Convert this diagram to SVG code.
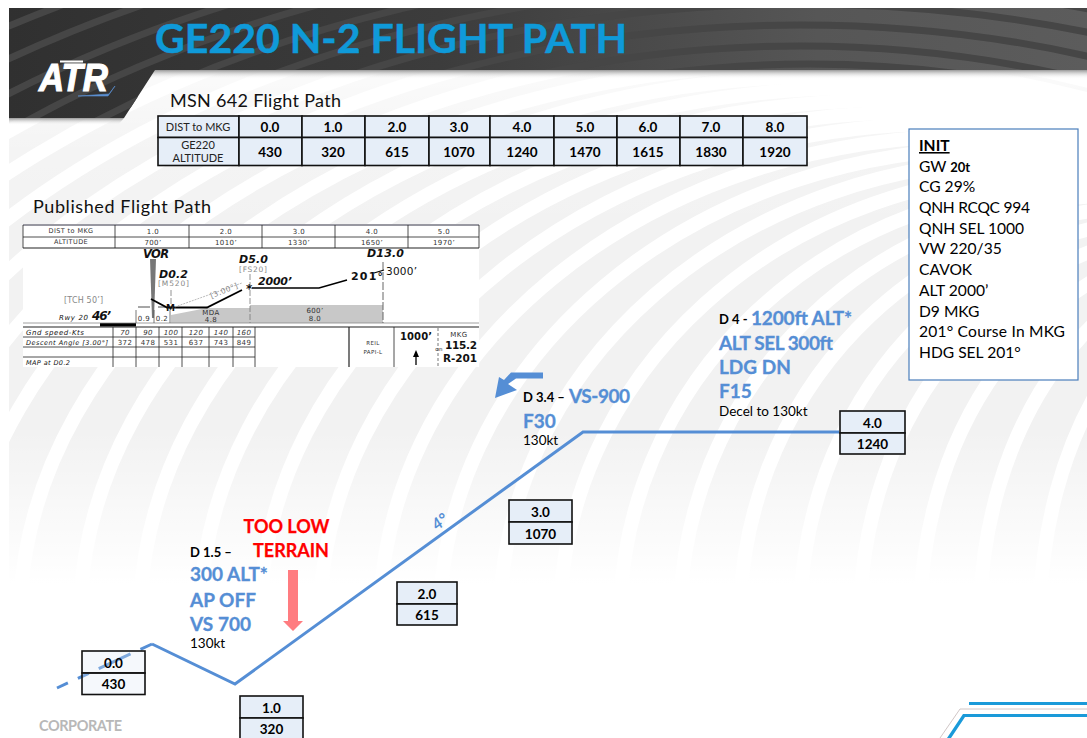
<svg xmlns="http://www.w3.org/2000/svg" width="1087" height="738" viewBox="0 0 1087 738">
<style>
text{font-family:Lato,"Liberation Sans",sans-serif;fill:#000}
.b{font-weight:700}
.blue{fill:#558ed5;stroke:#558ed5;stroke-width:.3;font-weight:700;font-size:19px}
.red{fill:#ff0000;stroke:#ff0000;stroke-width:.25;font-weight:700;font-size:18px;text-anchor:middle}
.sm{font-size:13.5px}
.lead{font-size:13px;font-weight:700}
.cell{fill:#e6eef8;stroke:#111;stroke-width:1.6}
.ghost{fill:#dfe8f5;fill-opacity:.3;stroke:#111;stroke-width:1.6}
.ct{font-size:13.5px;font-weight:700;text-anchor:middle}
.tt{font-size:11px;text-anchor:middle;fill:#222}
.init{font-size:15.6px}
.c{font-family:"DejaVu Sans",sans-serif;fill:#333;font-size:7px;text-anchor:middle;letter-spacing:.4px}
.ci{font-family:"DejaVu Sans",sans-serif;fill:#111;font-style:italic;font-size:7px}
.cb{font-family:"DejaVu Sans",sans-serif;fill:#111;font-weight:700;font-style:italic}
.cu{font-family:"DejaVu Sans",sans-serif;fill:#111;font-weight:700}
.g{font-family:"DejaVu Sans",sans-serif;fill:#888;font-size:7.5px}
.l{stroke:#222;stroke-width:.8;fill:none}
.path{stroke:#558ed5;stroke-width:3;fill:none}
.arcs path{fill:none}
</style>
<defs>
<clipPath id="slide"><rect x="9" y="70" width="1078" height="530"/></clipPath>
<clipPath id="head"><path d="M9 8H1087V70H155L124 118H9Z"/></clipPath>
<g id="arcs" class="arcs">
<path d="M-1000 620A1800 910 0 0 1 2600 620"/>
<path d="M-940 620A1740 889 0 0 1 2540 620"/>
<path d="M-880 620A1680 868 0 0 1 2480 620"/>
<path d="M-820 620A1620 847 0 0 1 2420 620"/>
<path d="M-760 620A1560 826 0 0 1 2360 620"/>
<path d="M-700 620A1500 805 0 0 1 2300 620"/>
<path d="M-640 620A1440 784 0 0 1 2240 620"/>
<path d="M-580 620A1380 763 0 0 1 2180 620"/>
<path d="M-520 620A1320 742 0 0 1 2120 620"/>
<path d="M-460 620A1260 721 0 0 1 2060 620"/>
<path d="M-400 620A1200 700 0 0 1 2000 620"/>
<path d="M-340 620A1140 679 0 0 1 1940 620"/>
<path d="M-280 620A1080 658 0 0 1 1880 620"/>
<path d="M-220 620A1020 637 0 0 1 1820 620"/>
<path d="M-160 620A960 616 0 0 1 1760 620"/>
<path d="M-100 620A900 595 0 0 1 1700 620"/>
<path d="M-40 620A840 574 0 0 1 1640 620"/>
<path d="M20 620A790 556 0 0 1 1600 620"/>
<path d="M80 620A752 544 0 0 1 1584 620"/>
<path d="M140 620A720 532 0 0 1 1580 620"/>
<path d="M200 620A688 520 0 0 1 1576 620"/>
<path d="M260 620A656 508 0 0 1 1572 620"/>
<path d="M320 620A624 496 0 0 1 1568 620"/>
<path d="M380 620A592 484 0 0 1 1564 620"/>
<path d="M440 620A560 472 0 0 1 1560 620"/>
<path d="M500 620A528 460 0 0 1 1556 620"/>
<path d="M560 620A496 448 0 0 1 1552 620"/>
<path d="M620 620A464 436 0 0 1 1548 620"/>
<path d="M680 620A432 424 0 0 1 1544 620"/>
<path d="M740 620A400 412 0 0 1 1540 620"/>
<path d="M800 620A368 400 0 0 1 1536 620"/>
<path d="M860 620A336 388 0 0 1 1532 620"/>
<path d="M920 620A304 376 0 0 1 1528 620"/>
<path d="M980 620A272 364 0 0 1 1524 620"/>
<path d="M1040 620A240 352 0 0 1 1520 620"/>
</g>
<linearGradient id="fade" x1="0" y1="70" x2="0" y2="600" gradientUnits="userSpaceOnUse">
<stop offset="0" stop-color="#fff" stop-opacity=".7"/>
<stop offset=".14" stop-color="#fff" stop-opacity=".2"/>
<stop offset=".3" stop-color="#fff" stop-opacity="0"/>
<stop offset=".68" stop-color="#fff" stop-opacity="0"/>
<stop offset=".97" stop-color="#fff" stop-opacity="1"/>
</linearGradient>
<linearGradient id="hd" x1="0" y1="0" x2="1" y2="0">
<stop offset="0" stop-color="#303030"/><stop offset=".4" stop-color="#3c3c3c"/><stop offset=".75" stop-color="#565656"/><stop offset="1" stop-color="#5c5c5c"/>
</linearGradient>
<linearGradient id="sh" x1="0" y1="0" x2="0" y2="1">
<stop offset="0" stop-color="#999"/><stop offset="1" stop-color="#fff" stop-opacity="0"/>
</linearGradient>
</defs>
<rect width="1087" height="738" fill="#fff"/>
<g id="background">
<g clip-path="url(#slide)">
<rect x="9" y="70" width="1078" height="530" fill="#f2f2f2"/>
<use href="#arcs" stroke="#fff" stroke-width="14"/>
<rect x="9" y="70" width="1078" height="530" fill="url(#fade)"/>
</g>
<rect x="124" y="70" width="963" height="9" fill="url(#sh)"/>
<path d="M9 118H124L118 125H9Z" fill="url(#sh)"/>
<path d="M9 8H1087V70H155L124 118H9Z" fill="url(#hd)"/>
<g clip-path="url(#head)"><use href="#arcs" stroke="#464646" stroke-width="7"/></g>
</g>
<g id="title">
<text x="155" y="53" class="b" font-size="41" style="fill:#0f9ad9;stroke:#0f9ad9;stroke-width:.5" textLength="472" lengthAdjust="spacingAndGlyphs">GE220 N-2 FLIGHT PATH</text>
</g>
<g id="logo">
<text x="39" y="91" font-size="39" font-style="italic" font-weight="700" style="fill:#fff;stroke:#fff;stroke-width:1.2;font-family:'Liberation Sans',sans-serif" textLength="69" lengthAdjust="spacingAndGlyphs">ATR</text>
<path d="M60 61.500H83" stroke="#fff" stroke-width="2"/>
<path d="M78 96H108L115 86L109 94Z" fill="#5b8fd0" stroke="#5b8fd0" stroke-width=".6"/>
</g>
<g id="msn-table">
<text x="170" y="107" font-size="18" style="fill:#111" textLength="171">MSN 642 Flight Path</text>
<g>
<rect class="cell" x="158" y="116" width="81" height="21.500"/><rect class="cell" x="158" y="137.500" width="81" height="28"/>
<rect class="cell" x="239" y="116" width="63" height="21.500"/><rect class="cell" x="239" y="137.500" width="63" height="28"/>
<rect class="cell" x="302" y="116" width="63" height="21.500"/><rect class="cell" x="302" y="137.500" width="63" height="28"/>
<rect class="cell" x="365" y="116" width="64" height="21.500"/><rect class="cell" x="365" y="137.500" width="64" height="28"/>
<rect class="cell" x="429" y="116" width="61" height="21.500"/><rect class="cell" x="429" y="137.500" width="61" height="28"/>
<rect class="cell" x="490" y="116" width="64" height="21.500"/><rect class="cell" x="490" y="137.500" width="64" height="28"/>
<rect class="cell" x="554" y="116" width="63" height="21.500"/><rect class="cell" x="554" y="137.500" width="63" height="28"/>
<rect class="cell" x="617" y="116" width="63" height="21.500"/><rect class="cell" x="617" y="137.500" width="63" height="28"/>
<rect class="cell" x="680" y="116" width="63" height="21.500"/><rect class="cell" x="680" y="137.500" width="63" height="28"/>
<rect class="cell" x="743" y="116" width="64" height="21.500"/><rect class="cell" x="743" y="137.500" width="64" height="28"/>
</g>
<text class="tt" x="198" y="131">DIST to MKG</text>
<text class="tt" x="198" y="149">GE220</text><text class="tt" x="198" y="162">ALTITUDE</text>
<text class="ct" x="270" y="132">0.0</text><text class="ct" x="270" y="157">430</text>
<text class="ct" x="333" y="132">1.0</text><text class="ct" x="333" y="157">320</text>
<text class="ct" x="397" y="132">2.0</text><text class="ct" x="397" y="157">615</text>
<text class="ct" x="459" y="132">3.0</text><text class="ct" x="459" y="157">1070</text>
<text class="ct" x="522" y="132">4.0</text><text class="ct" x="522" y="157">1240</text>
<text class="ct" x="585" y="132">5.0</text><text class="ct" x="585" y="157">1470</text>
<text class="ct" x="648" y="132">6.0</text><text class="ct" x="648" y="157">1615</text>
<text class="ct" x="711" y="132">7.0</text><text class="ct" x="711" y="157">1830</text>
<text class="ct" x="775" y="132">8.0</text><text class="ct" x="775" y="157">1920</text>
</g>
<g id="init">
<rect x="909" y="129" width="169" height="251" fill="#fff" stroke="#4a7ebb" stroke-width="1.2"/>
<text x="919" y="151" class="b init" text-decoration="underline">INIT</text>
<text x="919" y="172" class="init">GW <tspan class="b" font-size="13">20t</tspan></text>
<text x="919" y="192" class="init">CG 29%</text>
<text x="919" y="213" class="init" textLength="111">QNH RCQC 994</text>
<text x="919" y="234" class="init" textLength="105">QNH SEL 1000</text>
<text x="919" y="254" class="init">VW 220/35</text>
<text x="919" y="275" class="init">CAVOK</text>
<text x="919" y="296" class="init">ALT 2000’</text>
<text x="919" y="317" class="init">D9 MKG</text>
<text x="919" y="337" class="init" textLength="146">201° Course In MKG</text>
<text x="919" y="358" class="init">HDG SEL 201°</text>
</g>
<g id="published-chart">
<text x="33" y="213" font-size="18" style="fill:#111" textLength="178">Published Flight Path</text>
<rect x="23" y="224" width="456" height="143" fill="#fff"/>
<path d="M23 225H479" stroke="#334" stroke-width="1"/>
<path d="M23 248H479" stroke="#222" stroke-width="1.200"/>
<path class="l" d="M23 225V248M23 237H479M115 225V248M189 225V248M262 225V248M335 225V248M408 225V248M479 225V248"/>
<text class="c" x="71" y="233" style="font-size:6.500px">DIST to MKG</text><text class="c" x="71" y="244" style="font-size:6.500px">ALTITUDE</text>
<text class="c" x="153" y="234">1.0</text><text class="c" x="153" y="245">700’</text>
<text class="c" x="226" y="234">2.0</text><text class="c" x="226" y="245">1010’</text>
<text class="c" x="299" y="234">3.0</text><text class="c" x="299" y="245">1330’</text>
<text class="c" x="372" y="234">4.0</text><text class="c" x="372" y="245">1650’</text>
<text class="c" x="444" y="234">5.0</text><text class="c" x="444" y="245">1970’</text>
<path d="M171 315L207 308H250V305H383V323H171Z" fill="#c8c8c8"/>
<path d="M150 259H156L154 318H152Z" fill="#777"/>
<text class="cb" x="143" y="258" style="font-size:11.500px" textLength="26">VOR</text>
<text class="cb" x="159" y="278" style="font-size:11px" textLength="29">D0.2</text>
<text class="g" x="158" y="286" textLength="31">[M520]</text>
<text class="g" x="64" y="303" style="font-size:8px" textLength="39">[TCH 50’]</text>
<text class="ci" x="59" y="320" textLength="29">Rwy 20</text>
<text class="cu" x="92" y="320" style="font-size:12px;font-style:italic" textLength="19">46’</text>
<rect x="100" y="323" width="36" height="3.500" fill="#000"/>
<path d="M23 323H479" stroke="#888" stroke-width=".8"/>
<path d="M138 307H150M158 307H165" stroke="#222" stroke-width=".8"/>
<path d="M136 310V323M154 310V323M170 310V323" stroke="#555" stroke-width=".8"/>
<text class="c" x="144" y="321">0.9</text><text class="c" x="162" y="321">0.2</text>
<path d="M151 299L167 307.500H207L242 290" stroke="#000" stroke-width="1.800" fill="none"/>
<path d="M172 308L242 283" stroke="#aaa" stroke-width=".8" stroke-dasharray="2 1"/>
<text class="cu" x="166" y="311" style="font-size:9px">M</text>
<text class="c" x="225" y="293" transform="rotate(-22 225 293)" style="fill:#888;font-size:7.500px">[3.00°]</text>
<path d="M171 290V306M250 274V323" stroke="#777" stroke-width=".8" stroke-dasharray="6 2"/>
<path d="M383 262V323" stroke="#666" stroke-width="1" stroke-dasharray="8 2"/>
<text class="c" x="211" y="315">MDA</text><text class="c" x="211" y="322">4.8</text>
<text class="c" x="315" y="313">600’</text><text class="c" x="315" y="321">8.0</text>
<text class="cb" x="239" y="263" style="font-size:11px" textLength="29">D5.0</text>
<text class="g" x="239" y="272" textLength="28">[FS20]</text>
<text class="cu" x="246" y="293" style="font-size:12px">*</text>
<text class="cb" x="258" y="285" style="font-size:11px" textLength="34">2000’</text>
<path d="M252 288H319L347 280" stroke="#000" stroke-width="1.500" fill="none"/>
<text class="cu" x="351" y="280" style="font-size:11px" textLength="32">201°</text>
<path d="M374 273L384 270" stroke="#000" stroke-width="1.200"/>
<text x="386" y="275" style="font-family:'DejaVu Sans',sans-serif;fill:#111;font-size:10.500px" textLength="31">3000’</text>
<text class="cb" x="367" y="257" style="font-size:11px" textLength="37">D13.0</text>
<path d="M23 327H479" stroke="#222" stroke-width="1.200"/>
<path class="l" d="M113 327V367M136 327V367M159 327V367M182 327V367M209 327V367M233 327V367M255 327V367M394 327V367M23 337H255M23 347H255M23 357H255"/>
<path d="M349 327V367" stroke="#222" stroke-width="1.200"/>
<text class="ci" x="26" y="335" textLength="58">Gnd speed-Kts</text>
<text class="ci" x="26" y="345" style="font-size:6.500px" textLength="82">Descent Angle [3.00°]</text>
<text class="ci" x="26" y="365" style="font-size:6.500px" textLength="44">MAP at D0.2</text>
<text class="c" x="125" y="335" font-style="italic">70</text><text class="c" x="148" y="335" font-style="italic">90</text><text class="c" x="171" y="335" font-style="italic">100</text><text class="c" x="196" y="335" font-style="italic">120</text><text class="c" x="221" y="335" font-style="italic">140</text><text class="c" x="244" y="335" font-style="italic">160</text>
<text class="c" x="125" y="345">372</text><text class="c" x="148" y="345">478</text><text class="c" x="171" y="345">531</text><text class="c" x="196" y="345">637</text><text class="c" x="221" y="345">743</text><text class="c" x="244" y="345">849</text>
<text class="c" x="373" y="345" style="font-size:5.500px">REIL</text><text class="c" x="373" y="354" style="font-size:5.500px">PAPI-L</text>
<text class="cu" x="400" y="340" style="font-size:10px" textLength="32">1000’</text>
<path d="M416 353V365" stroke="#000" stroke-width="1.300"/><path d="M413 357L416 350L419 357Z" fill="#000"/>
<path d="M438 328V367" stroke="#555" stroke-width=".8" stroke-dasharray="3 2"/>
<text class="c" x="459" y="337">MKG</text>
<text class="c" x="439" y="351" style="font-size:5.500px">on</text>
<text class="cu" x="445" y="349" style="font-size:10.500px" textLength="32">115.2</text>
<text class="cu" x="443" y="362" style="font-size:10.500px" textLength="34">R-201</text>
</g>
<g id="connectors">
<path class="path" d="M57 688L152 644" stroke-dasharray="12 11 12 11 35 11 13"/>
<path class="path" d="M152 644L235 684L583 432H839"/>
</g>
<g id="cp0"><rect class="ghost" x="82" y="651" width="63" height="22"/><rect class="ghost" x="82" y="673" width="63" height="21.500"/><text class="ct" x="113.500" y="668">0.0</text><text class="ct" x="113.500" y="689">430</text></g>
<g id="cp1"><rect class="cell" x="240" y="696" width="63" height="22"/><rect class="cell" x="240" y="718" width="63" height="22"/><text class="ct" x="271.500" y="713">1.0</text><text class="ct" x="271.500" y="734">320</text></g>
<g id="cp2"><rect class="cell" x="397" y="582" width="60" height="22"/><rect class="cell" x="397" y="604" width="60" height="21"/><text class="ct" x="427" y="599">2.0</text><text class="ct" x="427" y="620">615</text></g>
<g id="cp3"><rect class="cell" x="509" y="500" width="63" height="22"/><rect class="cell" x="509" y="522" width="63" height="22"/><text class="ct" x="540.500" y="517">3.0</text><text class="ct" x="540.500" y="539">1070</text></g>
<g id="cp4"><rect class="cell" x="840" y="411" width="65" height="22"/><rect class="cell" x="840" y="433" width="65" height="21"/><text class="ct" x="872.500" y="428">4.0</text><text class="ct" x="872.500" y="449">1240</text></g>
<g id="d15">
<text x="190" y="557" class="lead">D 1.5 –</text>
<text x="190" y="581" class="blue">300 ALT*</text>
<text x="190" y="607" class="blue">AP OFF</text>
<text x="190" y="631" class="blue">VS 700</text>
<text x="190" y="648" class="sm">130kt</text>
</g>
<g id="terrain">
<text x="286.500" y="533" class="red">TOO LOW</text>
<text x="291" y="557" class="red">TERRAIN</text>
<path d="M288 570H298V621H303L293 631L283 621H288Z" fill="#ff7c80"/>
</g>
<g id="angle"><text x="0" y="0" font-size="16" font-style="italic" class="b" style="fill:#558ed5" transform="translate(437 531) rotate(-38)">4°</text></g>
<g id="d34">
<text x="523" y="402" class="lead">D 3.4 –</text>
<text x="569" y="403" class="blue" textLength="61">VS-900</text>
<text x="523" y="428" class="blue">F30</text>
<text x="523" y="445" class="sm">130kt</text>
<path d="M543 372.500V378.500H516L508 384L517 390L495 398L499 377L504 380L511 372.500Z" fill="#558ed5"/>
</g>
<g id="d4">
<text x="719" y="324" class="lead">D 4 -</text>
<text x="751" y="325" class="blue" textLength="101">1200ft ALT*</text>
<text x="719" y="350" class="blue" textLength="114">ALT SEL 300ft</text>
<text x="719" y="374" class="blue">LDG DN</text>
<text x="719" y="398" class="blue">F15</text>
<text x="719" y="416" class="sm">Decel to 130kt</text>
</g>
<g id="footer">
<text x="39" y="731" class="b" font-size="14.500" style="fill:#b8b8b8" textLength="83">CORPORATE</text>
<path d="M969 702H1087V705H969Z" fill="#1a9ad9"/>
<path d="M947 738L963 714H1087V717H965L951 738Z" fill="#1a9ad9"/>
<path d="M940 738L960 709H1087" stroke="#c4b8b8" stroke-width=".8" fill="none"/>
</g>
</svg>
